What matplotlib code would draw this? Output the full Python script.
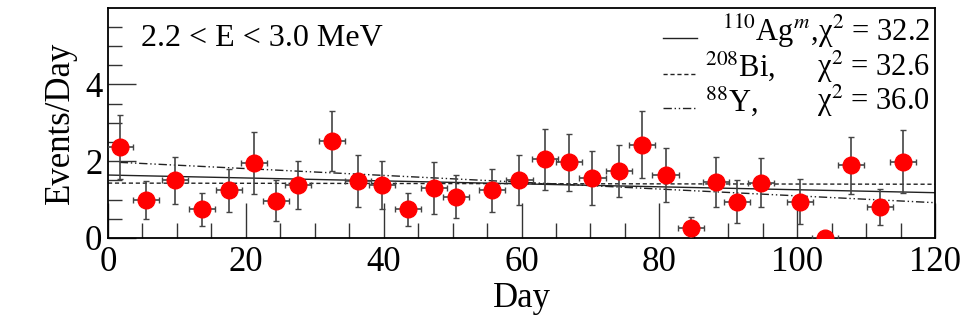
import matplotlib
matplotlib.use("Agg")
from matplotlib import pyplot as plt
from matplotlib.ticker import MultipleLocator

plt.rcParams['font.family'] = ['Liberation Serif', 'DejaVu Serif']
plt.rcParams['mathtext.fontset'] = 'stix'

# data
day = [1.7, 5.5, 9.7, 13.6, 17.6, 21.2, 24.4, 27.6, 32.5, 36.3, 39.8, 43.5, 47.3, 50.5,
       55.7, 59.7, 63.4, 66.9, 70.3, 74.1, 77.5, 80.9, 84.6, 88.2, 91.3, 94.7, 100.4,
       104.0, 107.8, 112.0, 115.3]
rate = [2.37, 0.99, 1.50, 0.75, 1.24, 1.95, 0.97, 1.38, 2.53, 1.49, 1.38, 0.75, 1.30, 1.08,
        1.25, 1.51, 2.05, 1.97, 1.56, 1.75, 2.43, 1.64, 0.25, 1.47, 0.95, 1.44, 0.95,
        0.0, 1.89, 0.80, 1.99]
rate_err = [0.84, 0.50, 0.62, 0.43, 0.55, 0.80, 0.54, 0.63, 0.79, 0.67, 0.63, 0.43, 0.67, 0.55,
            0.56, 0.65, 0.80, 0.75, 0.71, 0.68, 0.87, 0.70, 0.29, 0.65, 0.56, 0.64, 0.58,
            0.0, 0.74, 0.47, 0.81]
day_err = 1.9

# fit curves (end points)
ag_x, ag_y = [0, 120], [1.64, 1.18]
bi_x, bi_y = [0, 120], [1.43, 1.40]
y88_x, y88_y = [1.7, 120], [1.97, 0.92]

fig = plt.figure(figsize=(9.65, 3.24), dpi=100)
ax = fig.add_axes([108/965, 1-238/324, 827/965, 230/324])

ax.plot(ag_x, ag_y, color='#222222', lw=1.0, ls='-')
ax.plot(bi_x, bi_y, color='#222222', lw=1.0, ls=(0, (3, 2)))
ax.plot(y88_x, y88_y, color='#222222', lw=1.0, ls=(0, (6, 2, 1, 2, 1, 2)))

ax.errorbar(day, rate, yerr=rate_err, xerr=day_err, fmt='o', color='red', ms=12,
            ecolor='#444444', elinewidth=1.2, capsize=2.5, capthick=1.0, zorder=3)

ax.set_xlim(0, 120)
ax.set_ylim(0, 5.99)
ax.xaxis.set_major_locator(MultipleLocator(20))
ax.xaxis.set_minor_locator(MultipleLocator(5))
ax.yaxis.set_major_locator(MultipleLocator(2))
ax.yaxis.set_minor_locator(MultipleLocator(0.5))
ax.tick_params(which='both', direction='in', labelsize=25, width=1.0, color='#333333')
ax.tick_params(which='major', axis='x', length=25, pad=6)
ax.tick_params(which='minor', axis='x', length=11)
ax.tick_params(which='major', axis='y', length=20, pad=4)
ax.tick_params(which='minor', axis='y', length=10)
for s in ax.spines.values():
    s.set_linewidth(1.3)

ax.set_xlabel('Day', fontsize=25, labelpad=2)
ax.set_ylabel('Events/Day', fontsize=25, labelpad=6)

ax.text(0.04, 0.93, '2.2 < E < 3.0 MeV', transform=ax.transAxes, fontsize=23,
        va='top', ha='left')

# legend drawn by hand
rows = [0.90, 0.745, 0.595]
styles = ['-', (0, (3, 2)), (0, (6, 2, 1, 2, 1, 2))]
names = ['', r'$^{208}$Bi,', r'$^{88}$Y,']
chis = [r'$^{110}$Ag$^{m}$,χ$^2$ = 32.2', r'χ$^2$ = 32.6', r'χ$^2$ = 36.0']
for yy, st, nm, ch in zip(rows, styles, names, chis):
    ax.plot([0.671, 0.712], [yy - 0.03, yy - 0.03], transform=ax.transAxes,
            color='#222222', lw=1.0, ls=st)
    if nm:
        ax.text(0.722, yy, nm, transform=ax.transAxes, fontsize=22, va='center', ha='left')
    ax.text(0.994, yy, ch, transform=ax.transAxes, fontsize=22, va='center', ha='right')

fig.savefig('out.png', dpi=100)
